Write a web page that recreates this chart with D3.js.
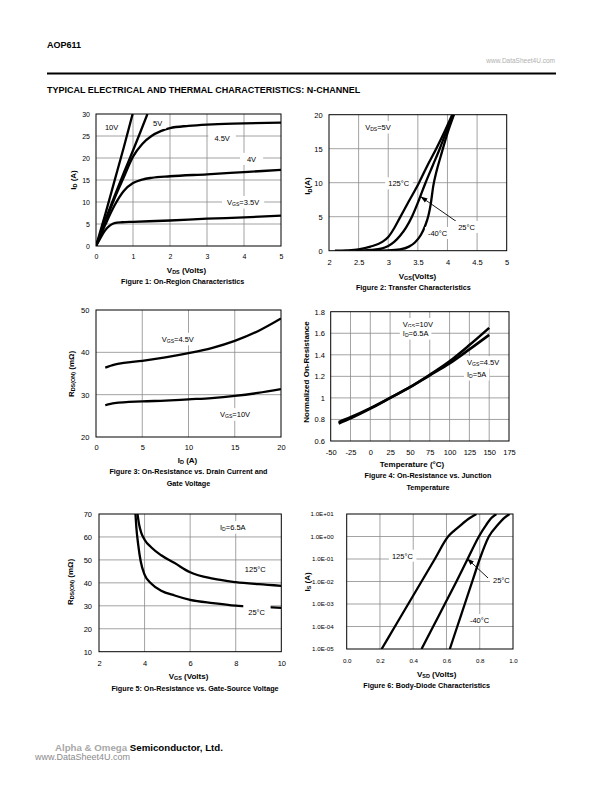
<!DOCTYPE html>
<html><head><meta charset="utf-8">
<script src="https://cdn.jsdelivr.net/npm/d3@7"></script>
<style>
body{margin:0;background:#fff}
svg{display:block}
text{font-family:"Liberation Sans",Arial,sans-serif}
</style>
</head><body>
<svg id="page" width="612" height="792"></svg>
<script>
// ================= DATA =================
// Figure 1: On-Region Characteristics  [VDS (V), ID (A)]
const fig1_xTicks = [0,1,2,3,4,5];
const fig1_yTicks = [0,5,10,15,20,25,30];
const fig1_vgs10 = [[0,0],[0.25,7.2],[0.5,14.8],[0.75,22.4],[0.99,30]];
const fig1_vgs5  = [[0,0],[0.25,5.8],[0.5,11.3],[0.75,16.6],[1,21.7],[1.2,25.9],[1.39,30]];
const fig1_vgs45 = [[0,0],[0.25,5.5],[0.5,10.8],[0.75,15.6],[1,20.3],[1.25,23.2],[1.5,25],[1.75,26.1],[2,26.8],[2.5,27.3],[3,27.6],[4,27.85],[5,28.05]];
const fig1_vgs4  = [[0,0],[0.25,4.8],[0.5,9.2],[0.75,12.5],[1,14.3],[1.25,15.1],[1.5,15.5],[2,15.85],[3,16.3],[4,16.8],[5,17.3]];
const fig1_vgs35 = [[0,0],[0.1,1.5],[0.2,3],[0.3,4.1],[0.4,4.8],[0.5,5.2],[0.7,5.4],[1,5.5],[2,5.8],[3,6.2],[4,6.5],[5,6.9]];

// Figure 2: Transfer Characteristics  [VGS (V), ID (A)]
const fig2_xTicks = [2,2.5,3,3.5,4,4.5,5];
const fig2_xLabels = ["2","2.5","3","3.5","4","4.5","5"];
const fig2_yTicks = [0,5,10,15,20];
const fig2_t125 = [[2.1,0],[2.3,0.05],[2.5,0.2],[2.7,0.6],[2.9,1.3],[3.0,2.0],[3.1,3.3],[3.2,4.9],[3.35,7.3],[3.52,10],[3.66,12.5],[3.81,15],[3.95,17.5],[4.08,20]];
const fig2_t25  = [[2.45,0],[2.7,0.1],[2.9,0.35],[3.0,0.7],[3.1,1.3],[3.2,2.2],[3.3,3.4],[3.4,5.0],[3.52,7.5],[3.63,10],[3.75,12.5],[3.87,15],[3.98,17.5],[4.1,20]];
const fig2_tm40 = [[2.7,0],[3.0,0.05],[3.2,0.2],[3.35,0.6],[3.45,1.2],[3.55,2.3],[3.62,3.6],[3.68,5.2],[3.72,7],[3.76,9.5],[3.81,11.5],[3.89,14],[3.99,17],[4.11,20]];

// Figure 3: On-Resistance vs Drain Current  [ID (A), RDS(ON) (mOhm)]
const fig3_xTicks = [0,5,10,15,20];
const fig3_yTicks = [20,30,40,50];
const fig3_vgs45 = [[1,36.4],[2,37.1],[3,37.5],[5,38.0],[7.5,38.8],[10,39.8],[12.5,41.0],[15,42.7],[17.5,45.0],[20,48.0]];
const fig3_vgs10 = [[1,27.5],[2,28.0],[5,28.4],[7.5,28.6],[10,28.9],[12.5,29.2],[15,29.7],[17.5,30.4],[20,31.3]];

// Figure 4: Normalized On-Resistance vs Temperature  [Tj (C), normalized R]
const fig4_xTicks = [-50,-25,0,25,50,75,100,125,150,175];
const fig4_yTicks = [0.6,0.8,1,1.2,1.4,1.6,1.8];
const fig4_yLabels = ["0.6","0.8","1","1.2","1.4","1.6","1.8"];
const fig4_vgs10 = [[-40,0.775],[-25,0.82],[0,0.905],[25,1.0],[50,1.1],[75,1.215],[100,1.34],[125,1.49],[150,1.65]];
const fig4_vgs45 = [[-40,0.763],[-25,0.81],[0,0.9],[25,1.0],[50,1.1],[75,1.21],[100,1.32],[125,1.45],[150,1.585]];

// Figure 5: On-Resistance vs Gate-Source Voltage  [VGS (V), RDS(ON) (mOhm)]
const fig5_xTicks = [2,4,6,8,10];
const fig5_yTicks = [10,20,30,40,50,60,70];
const fig5_t125 = [[3.69,70],[3.76,65.4],[3.86,61.7],[4.0,58.8],[4.3,55.4],[4.73,52.0],[5.32,48.6],[6,44.6],[7,41.8],[8,40.3],[9,39.4],[10,38.7]];
const fig5_t25  = [[3.6,70],[3.64,64],[3.72,56.7],[3.83,49.4],[4.0,43.6],[4.3,39.6],[4.73,36.6],[5.32,34.5],[6,32.6],[7,31.2],[8,30.1],[9,29.6],[10,29.1]];

// Figure 6: Body-Diode Characteristics  [VSD (V), IS (A)]
const fig6_xTicks = [0,0.2,0.4,0.6,0.8,1.0];
const fig6_xLabels = ["0.0","0.2","0.4","0.6","0.8","1.0"];
const fig6_yTicks = [1e-5,1e-4,1e-3,1e-2,1e-1,1e0,1e1];
const fig6_yLabels = ["1.0E-05","1.0E-04","1.0E-03","1.0E-02","1.0E-01","1.0E+00","1.0E+01"];
const fig6_t125 = [[0.21,1e-5],[0.29,1e-4],[0.37,1e-3],[0.45,1e-2],[0.53,1e-1],[0.61,1],[0.65,1.9],[0.69,3.4],[0.74,6.6],[0.78,10]];
const fig6_t25  = [[0.45,1e-5],[0.52,1e-4],[0.59,1e-3],[0.66,1e-2],[0.727,1e-1],[0.795,1],[0.84,3.4],[0.87,6.6],[0.90,10]];
const fig6_tm40 = [[0.62,1e-5],[0.665,1e-4],[0.71,1e-3],[0.755,1e-2],[0.80,1e-1],[0.855,1],[0.91,3.4],[0.946,6.6],[0.98,10]];

// ================= DRAWING =================
const svg = d3.select('#page');
const defs = svg.append('defs');
defs.append('marker').attr('id','arrow').attr('viewBox','0 0 10 10').attr('refX',9).attr('refY',5)
  .attr('markerWidth',7).attr('markerHeight',7).attr('markerUnits','userSpaceOnUse').attr('orient','auto')
  .append('path').attr('d','M0,1.5 L10,5 L0,8.5 Z').attr('fill','#000');

const CONDENSE = 0.9;

function richText(t, str, size){
  const parts = str.split(/(_\{[^}]*\})/).filter(p=>p.length);
  let shifted = false;
  parts.forEach(p=>{
    if(p.startsWith('_{')){
      t.append('tspan').attr('font-size', size*0.68).attr('dy', size*0.28).text(p.slice(2,-1));
      shifted = true;
    } else {
      const ts = t.append('tspan').text(p);
      if(shifted){ ts.attr('dy', -size*0.28); shifted = false; }
    }
  });
  return t;
}
// squeeze a text horizontally to mimic a narrow face
function condense(t, f){
  const w = t.node().getComputedTextLength();
  t.attr('textLength', w*f).attr('lengthAdjust','spacingAndGlyphs');
}

function chart(c){
  const g = svg.append('g');
  const x = (c.xLog ? d3.scaleLog() : d3.scaleLinear()).domain(c.xDomain).range([c.left, c.left+c.width]);
  const y = (c.yLog ? d3.scaleLog() : d3.scaleLinear()).domain(c.yDomain).range([c.top+c.height, c.top]);
  const clipId = 'clip'+c.id;
  defs.append('clipPath').attr('id',clipId).append('rect')
    .attr('x',c.left).attr('y',c.top).attr('width',c.width).attr('height',c.height);
  // grid
  const grid = g.append('g').attr('stroke','#8c8c8c').attr('stroke-width',0.8);
  grid.selectAll('.vx').data(c.xTicks.filter(v=>v>c.xDomain[0] && v<c.xDomain[1])).join('line')
    .attr('x1',d=>x(d)).attr('x2',d=>x(d)).attr('y1',c.top).attr('y2',c.top+c.height);
  grid.selectAll('.hy').data(c.yTicks.filter(v=>v>c.yDomain[0] && v<c.yDomain[1])).join('line')
    .attr('y1',d=>y(d)).attr('y2',d=>y(d)).attr('x1',c.left).attr('x2',c.left+c.width);
  // curves
  const line = d3.line().x(d=>x(d[0])).y(d=>y(d[1])).curve(d3.curveMonotoneX);
  const cg = g.append('g').attr('clip-path',`url(#${clipId})`);
  c.series.forEach(s=>{
    cg.append('path').attr('d', line(s)).attr('fill','none').attr('stroke','#000')
      .attr('stroke-width', c.lw||2.3).attr('stroke-linejoin','round').attr('stroke-linecap','butt');
  });
  // arrows
  (c.arrows||[]).forEach(a=>{
    g.append('line').attr('x1',x(a.from[0])).attr('y1',y(a.from[1]))
      .attr('x2',x(a.to[0])).attr('y2',y(a.to[1])).attr('stroke','#000').attr('stroke-width',0.9)
      .attr('marker-end','url(#arrow)');
  });
  // labels with white background
  (c.labels||[]).forEach(l=>{
    const lg = g.append('g');
    const t = lg.append('text').attr('x',x(l.x)).attr('y',y(l.y)).attr('font-size',c.labelFont||7.5)
      .attr('dominant-baseline','central').attr('fill','#000');
    richText(t, l.t, c.labelFont||7.5);
    const bb = t.node().getBBox();
    const px = l.padX!=null ? l.padX : 3, py = l.padY!=null ? l.padY : 1.5;
    lg.insert('rect', ()=>t.node()).attr('x',bb.x-px).attr('y',bb.y-py)
      .attr('width',bb.width+2*px).attr('height',bb.height+2*py).attr('fill','#fff');
  });
  // border
  g.append('rect').attr('x',c.left).attr('y',c.top).attr('width',c.width).attr('height',c.height)
    .attr('fill','none').attr('stroke','#000').attr('stroke-width',1);
  // axes
  const xa = d3.axisBottom(x).tickValues(c.xTicks).tickSize(0).tickPadding(c.xPad)
    .tickFormat((d,i)=> c.xLabels ? c.xLabels[i] : String(d));
  g.append('g').attr('transform',`translate(0,${c.top+c.height})`).call(xa)
    .call(a=>a.select('.domain').remove())
    .attr('font-size',c.tickFont).attr('font-family','"Liberation Sans",Arial,sans-serif');
  const ya = d3.axisLeft(y).tickValues(c.yTicks).tickSize(0).tickPadding(c.yPad)
    .tickFormat((d,i)=> c.yLabels ? c.yLabels[i] : String(d));
  g.append('g').attr('transform',`translate(${c.left},0)`).call(ya)
    .call(a=>a.select('.domain').remove())
    .attr('font-size',c.tickFont).attr('font-family','"Liberation Sans",Arial,sans-serif');
  // axis titles
  const xt = g.append('text').attr('x',c.xTitlePos[0]).attr('y',c.xTitlePos[1]).attr('text-anchor','middle')
    .attr('dominant-baseline','central').attr('font-weight','bold').attr('font-size',8);
  richText(xt, c.xTitle, 8);
  const yt = g.append('text').attr('transform',`translate(${c.yTitlePos[0]},${c.yTitlePos[1]}) rotate(-90)`)
    .attr('text-anchor','middle').attr('dominant-baseline','central').attr('font-weight','bold')
    .attr('font-size',8);
  richText(yt, c.yTitle, 8);
  // caption
  c.caption.forEach((cl,i)=>{
    const ct = g.append('text').attr('x',c.capPos[0]).attr('y',c.capPos[1]+i*12.5).attr('text-anchor','middle')
      .attr('dominant-baseline','central').attr('font-weight','bold').attr('font-size',8).text(cl);
    condense(ct, CONDENSE);
  });
}

// Header
svg.append('text').attr('x',47).attr('y',48).attr('font-weight','bold').attr('font-size',9).text('AOP611');
svg.append('text').attr('x',555).attr('y',62.5).attr('text-anchor','end').attr('font-size',6.5).attr('fill','#b0b0b0').text('www.DataSheet4U.com');
svg.append('line').attr('x1',47).attr('x2',556).attr('y1',73.5).attr('y2',73.5).attr('stroke','#000').attr('stroke-width',2);
svg.append('text').attr('x',47).attr('y',92.5).attr('font-weight','bold').attr('font-size',9)
  .text('TYPICAL ELECTRICAL AND THERMAL CHARACTERISTICS: N-CHANNEL');

// Figure 1
chart({id:1,left:96,top:114,width:185,height:132,xDomain:[0,5],yDomain:[0,30],
  xTicks:fig1_xTicks,yTicks:fig1_yTicks,tickFont:7,xPad:8.5,yPad:6,
  series:[fig1_vgs10,fig1_vgs5,fig1_vgs45,fig1_vgs4,fig1_vgs35],
  labels:[{t:'10V',x:0.24,y:27,padX:5},{t:'5V',x:1.54,y:28,padX:4},{t:'4.5V',x:3.2,y:24.5,padX:6},{t:'4V',x:4.08,y:19.8,padX:7},{t:'V_{GS}=3.5V',x:3.54,y:10,padX:5}],
  xTitle:'V_{DS} (Volts)',xTitlePos:[186.5,269.5],yTitle:'I_{D} (A)',yTitlePos:[72.7,180],
  caption:['Figure 1: On-Region Characteristics'],capPos:[182.7,281]});

// Figure 2
chart({id:2,left:329,top:114.7,width:177.7,height:136,xDomain:[2,5],yDomain:[0,20],
  xTicks:fig2_xTicks,xLabels:fig2_xLabels,yTicks:fig2_yTicks,tickFont:7.5,xPad:9,yPad:6.3,
  series:[fig2_t125,fig2_t25,fig2_tm40],
  labels:[{t:'V_{DS}=5V',x:2.61,y:18.2},{t:'125°C',x:3.0,y:9.9},{t:'25°C',x:4.18,y:3.5},{t:'-40°C',x:3.67,y:2.6}],
  arrows:[{from:[4.156,4.26],to:[3.555,7.9]}],
  xTitle:'V_{GS}(Volts)',xTitlePos:[417.5,276],yTitle:'I_{D}(A)',yTitlePos:[307.3,186],
  caption:['Figure 2: Transfer Characteristics'],capPos:[413.4,287]});

// Figure 3
chart({id:3,left:96,top:310,width:185,height:127,xDomain:[0,20],yDomain:[20,50],
  xTicks:fig3_xTicks,yTicks:fig3_yTicks,tickFont:7.5,xPad:7.5,yPad:6.7,
  series:[fig3_vgs45,fig3_vgs10],
  labels:[{t:'V_{GS}=4.5V',x:7.1,y:43.2},{t:'V_{GS}=10V',x:13.4,y:25.4}],
  xTitle:'I_{D} (A)',xTitlePos:[187.5,459.5],yTitle:'R_{DS(ON)} (mΩ)',yTitlePos:[71,374],
  caption:['Figure 3: On-Resistance vs. Drain Current and','Gate Voltage'],capPos:[188.5,471]});

// Figure 4
chart({id:4,left:330.7,top:311.7,width:178.3,height:129.3,xDomain:[-50,175],yDomain:[0.6,1.8],
  xTicks:fig4_xTicks,yTicks:fig4_yTicks,yLabels:fig4_yLabels,tickFont:7.5,xPad:8.5,yPad:5.7,lw:2.6,
  series:[fig4_vgs10,fig4_vgs45],
  labels:[{t:'V_{GS}=10V',x:41,y:1.686},{t:'I_{D}=6.5A',x:41,y:1.602},{t:'V_{GS}=4.5V',x:122,y:1.333},{t:'I_{D}=5A',x:122,y:1.222}],
  xTitle:'Temperature (°C)',xTitlePos:[412,464],yTitle:'Normalized On-Resistance',yTitlePos:[306,372],
  caption:['Figure 4: On-Resistance vs. Junction','Temperature'],capPos:[428,475]});

// Figure 5
chart({id:5,left:99,top:514,width:182.3,height:137.7,xDomain:[2,10],yDomain:[10,70],
  xTicks:fig5_xTicks,yTicks:fig5_yTicks,tickFont:7.5,xPad:9,yPad:7,
  series:[fig5_t125,fig5_t25],
  labels:[{t:'I_{D}=6.5A',x:7.31,y:64.3},{t:'125°C',x:8.4,y:46},{t:'25°C',x:8.55,y:27.2,padX:5,padY:3}],
  xTitle:'V_{GS} (Volts)',xTitlePos:[188.5,676],yTitle:'R_{DS(ON)} (mΩ)',yTitlePos:[70,582],
  caption:['Figure 5: On-Resistance vs. Gate-Source Voltage'],capPos:[195,688]});

// Figure 6
chart({id:6,left:346.7,top:514,width:166.3,height:135,xDomain:[0,1],yDomain:[1e-5,1e1],yLog:true,
  xTicks:fig6_xTicks,xLabels:fig6_xLabels,yTicks:fig6_yTicks,yLabels:fig6_yLabels,tickFont:6.2,xPad:9.5,yPad:13,
  series:[fig6_t125,fig6_t25,fig6_tm40],
  labels:[{t:'125°C',x:0.272,y:0.14},{t:'25°C',x:0.88,y:0.0117},{t:'-40°C',x:0.741,y:1.95e-4}],
  arrows:[{from:[0.85,0.0143],to:[0.727,0.1]}],
  xTitle:'V_{SD} (Volts)',xTitlePos:[436.7,673.5],yTitle:'I_{S} (A)',yTitlePos:[307,582],
  caption:['Figure 6: Body-Diode Characteristics'],capPos:[426.7,685]});

// Footer
const ft = svg.append('text').attr('x',55).attr('y',750.5).attr('font-weight','bold').attr('font-size',9.7);
ft.append('tspan').attr('fill','#a8a8a8').text('Alpha & Omega ');
ft.append('tspan').attr('fill','#000').text('Semiconductor, Ltd.');
svg.append('text').attr('x',35).attr('y',760).attr('font-size',9).attr('fill','#8a8a8a').text('www.DataSheet4U.com');
</script>
</body></html>
